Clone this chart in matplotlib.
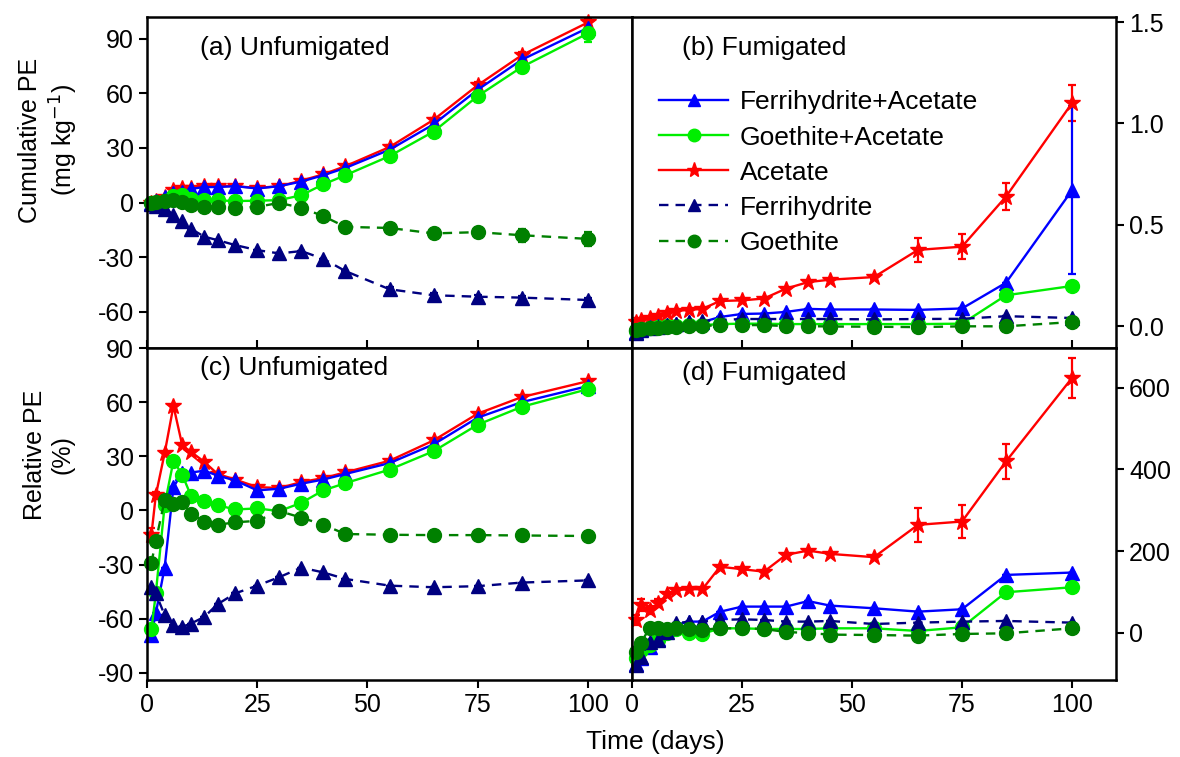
import numpy as np
import matplotlib.pyplot as plt
from matplotlib.lines import Line2D

plt.rcParams['font.family'] = ['Liberation Sans', 'DejaVu Sans']
plt.rcParams['axes.unicode_minus'] = False

# Sampling days
days = [1, 2, 4, 6, 8, 10, 13, 16, 20, 25, 30, 35, 40, 45, 55, 65, 75, 85, 100]

# (a) Cumulative PE, unfumigated (mg kg-1)
a_fa = [0, 1, 3, 5, 6, 7.5, 8.5, 8.5, 9, 7.7, 9, 11.5, 15, 19, 29, 43, 62, 78.5, 96]
a_ga = [-0.5, 0, 1, 3.5, 4, 2.2, 1.6, 1.2, 0.8, 1, 1.3, 4, 10, 15, 25.5, 39, 58.5, 74.5, 93]
a_ac = [0, 1, 3, 7, 8, 8, 9, 9, 9, 8, 9, 12, 15.5, 20, 30.5, 45.5, 64.5, 81, 99]
a_fe = [-1, -2, -3.5, -6.6, -10.2, -14.5, -18.8, -20.7, -23.4, -26.2, -28, -26.7, -31,
        -37.7, -47.7, -51, -51.8, -52.3, -53.6]
a_go = [-0.2, 0.2, 0.7, 1.3, 0.4, -1.1, -2.4, -2.4, -2.9, -2.4, -0.2, -2.9, -7.5,
        -13.4, -14, -17, -16.3, -18, -20]
a_fa_err = [0] * 14 + [1, 1.5, 2, 2, 2]
a_ga_err = [0] * 14 + [2, 2.5, 3, 3.5, 4.5]
a_ac_err = [0] * 14 + [1, 1, 1.5, 1.5, 2]
a_fe_err = [0] * 14 + [1, 1, 1, 1, 1]
a_go_err = [0] * 14 + [1.5, 2, 2.5, 3.5, 4]

# (b) Cumulative PE, fumigated (mg kg-1)
b_fa = [-0.03, -0.015, -0.005, 0.0, 0.005, 0.01, 0.02, 0.02, 0.045, 0.06, 0.062, 0.07,
        0.085, 0.082, 0.082, 0.08, 0.087, 0.214, 0.67]
b_ga = [-0.025, -0.015, -0.01, -0.005, 0.0, 0.0, 0.005, 0.005, 0.01, 0.012, 0.012, 0.01,
        0.01, 0.01, 0.01, 0.01, 0.012, 0.152, 0.198]
b_ac = [0.02, 0.03, 0.04, 0.05, 0.065, 0.075, 0.08, 0.085, 0.124, 0.127, 0.136, 0.185,
        0.217, 0.229, 0.242, 0.376, 0.392, 0.639, 1.10]
b_fe = [-0.035, -0.02, -0.01, -0.005, 0.005, 0.01, 0.02, 0.025, 0.03, 0.035, 0.035, 0.035,
        0.035, 0.035, 0.033, 0.035, 0.036, 0.049, 0.04]
b_go = [-0.02, -0.015, -0.01, -0.008, -0.005, -0.003, 0.0, 0.0, 0.005, 0.005, 0.005, 0.0,
        0.0, -0.002, -0.003, -0.005, -0.001, -0.001, 0.02]
b_fa_err = [0] * 18 + [0.415]
b_ga_err = [0] * 19
b_ac_err = [0] * 14 + [0.01, 0.059, 0.06, 0.065, 0.088]
b_fe_err = [0] * 19
b_go_err = [0] * 19

# (c) Relative PE, unfumigated (%)
c_fa = [-69, -57, -31.7, 12.9, 21, 21, 22, 19.3, 16.6, 11.1, 12, 14.8, 17.1, 20.2, 26.2,
        36.6, 51.4, 60, 68.9]
c_ga = [-66, -46, 2.9, 27.5, 19.7, 8, 5.1, 2.9, 0.5, 1.1, -0.4, 4.2, 11.1, 15.1, 22.6,
        32.8, 47.5, 57.4, 67.2]
c_ac = [-13.5, 8.4, 31.7, 57.9, 36, 32.4, 26.9, 20.2, 17.1, 12.9, 12.4, 15.7, 17.9, 21.1,
        27.5, 38.8, 53.6, 62.8, 71.6]
c_fe = [-42.6, -46, -58, -63.6, -64.5, -62.7, -59, -52, -46, -41.7, -37, -31.7, -34.4,
        -38, -41.7, -42.6, -42, -40, -38.8]
c_go = [-29, -17, 5.6, 3.8, 4.7, -2, -6.2, -8, -6.6, -5.8, -0.4, -4, -8, -13.1, -13.5,
        -13.7, -13.7, -13.9, -14.2]
c_fa_err = [0] * 19
c_ga_err = [0] * 19
c_ac_err = [4, 2] + [0] * 17
c_fe_err = [0] * 19
c_go_err = [0] * 14 + [1.5, 1, 1, 1.5, 1.5]

# (d) Relative PE, fumigated (%)
d_fa = [-75, -60, -35, -15, 10, 20, 27.8, 27.8, 52, 64.5, 64.5, 64.5, 78, 67, 60.4, 52.2,
        58, 142, 147.8]
d_ga = [-62, -42, -29, -17, 0, 9, 1, -2.4, 11.4, 11.4, 9.8, 9.8, 9.8, 11.4, 11.4, 4.9,
        13.9, 99.6, 111.8]
d_ac = [31.8, 68.6, 56.3, 72.7, 95.5, 105, 107, 107, 162, 156, 150, 191, 201.6, 193.5,
        185.4, 264.5, 272.6, 419.6, 623.7]
d_fe = [-78, -58, -21, -17, 3, 23.7, 27.8, 27.8, 31.8, 33.5, 31.8, 27.8, 27.8, 29.4, 22,
        25.3, 27.8, 29.4, 25.3]
d_go = [-45.7, -23.7, 11.4, 11.4, 9.8, 11.4, 9.8, 8, 11.4, 11.4, 9.8, 2.4, 0, -4, -5,
        -6.5, -2.4, -0.8, 11.4]
d_fa_err = [0] * 19
d_ga_err = [0] * 19
d_ac_err = [12, 15, 10, 10] + [0] * 11 + [42, 41, 43, 50]
d_fe_err = [0] * 19
d_go_err = [0] * 19

labels = ['Ferrihydrite+Acetate', 'Goethite+Acetate', 'Acetate', 'Ferrihydrite', 'Goethite']
colors = ['#0000ff', '#00ee00', '#ff0000', '#000080', '#008000']
markers = ['^', 'o', '*', '^', 'o']
msizes = [10, 10, 12, 10, 10]
styles = ['-', '-', '-', (0, (4, 3)), (0, (4, 3))]
draw_order = [2, 0, 1, 3, 4]

panels = [
    ([a_fa, a_ga, a_ac, a_fe, a_go], [a_fa_err, a_ga_err, a_ac_err, a_fe_err, a_go_err]),
    ([b_fa, b_ga, b_ac, b_fe, b_go], [b_fa_err, b_ga_err, b_ac_err, b_fe_err, b_go_err]),
    ([c_fa, c_ga, c_ac, c_fe, c_go], [c_fa_err, c_ga_err, c_ac_err, c_fe_err, c_go_err]),
    ([d_fa, d_ga, d_ac, d_fe, d_go], [d_fa_err, d_ga_err, d_ac_err, d_fe_err, d_go_err]),
]

fig = plt.figure(figsize=(11.8, 7.57), dpi=100)
W, H = 1180, 757
left_x, mid_x, right_x = 147, 632, 1116
top_y, mid_y, bot_y = 17, 348, 680
rects = [
    [left_x / W, 1 - mid_y / H, (mid_x - left_x) / W, (mid_y - top_y) / H],
    [mid_x / W, 1 - mid_y / H, (right_x - mid_x) / W, (mid_y - top_y) / H],
    [left_x / W, 1 - bot_y / H, (mid_x - left_x) / W, (bot_y - mid_y) / H],
    [mid_x / W, 1 - bot_y / H, (right_x - mid_x) / W, (bot_y - mid_y) / H],
]
ylims = [(-80, 102), (-0.108, 1.525), (-94, 90), (-115, 697)]
yticks = [[-60, -30, 0, 30, 60, 90], [0.0, 0.5, 1.0, 1.5],
          [-90, -60, -30, 0, 30, 60, 90], [0, 200, 400, 600]]
titles = ['(a) Unfumigated', '(b) Fumigated', '(c) Unfumigated', '(d) Fumigated']
title_pos = [(0.11, 0.905), (0.103, 0.905), (0.11, 0.94), (0.103, 0.925)]

for k, (vals, errs) in enumerate(panels):
    ax = fig.add_axes(rects[k])
    for i in draw_order:
        ax.errorbar(days, vals[i], yerr=errs[i], color=colors[i], ls=styles[i],
                    lw=1.7, marker=markers[i], ms=msizes[i], mec=colors[i],
                    capsize=3, elinewidth=1.6, capthick=1.6, clip_on=False)
    ax.set_xlim(0, 110)
    ax.set_ylim(*ylims[k])
    ax.set_yticks(yticks[k])
    ax.set_xticks([0, 25, 50, 75, 100])
    if k == 1:
        ax.set_yticklabels(['0.0', '0.5', '1.0', '1.5'])
    if k in (1, 3):
        ax.yaxis.tick_right()
    if k in (0, 1):
        ax.tick_params(axis='x', direction='in', labelbottom=False, length=6, width=1.5)
    else:
        ax.tick_params(axis='x', direction='out', length=6, width=1.5, labelsize=18)
    ax.tick_params(axis='y', direction='out', length=6, width=1.5, labelsize=18)
    for sp in ax.spines.values():
        sp.set_linewidth(1.8)
    ax.text(title_pos[k][0], title_pos[k][1], titles[k], transform=ax.transAxes,
            fontsize=19, ha='left', va='center')
    if k == 1:
        proxies = [Line2D([], [], color=colors[i], ls=styles[i], lw=1.7,
                          marker=markers[i], ms=msizes[i] - 1) for i in range(5)]
        ax.legend(proxies, labels, loc='upper left',
                  bbox_to_anchor=(0.035, 0.81), frameon=False, fontsize=19,
                  handlelength=2.6, handletextpad=0.45, labelspacing=0.42,
                  borderaxespad=0)

fig.text(49 / W, 1 - 140 / H, 'Cumulative PE\n(mg kg$^{-1}$)', rotation=90,
         ha='center', va='center', fontsize=18, multialignment='center')
fig.text(49 / W, 1 - 455 / H, 'Relative PE\n(%)', rotation=90,
         ha='center', va='center', fontsize=18, multialignment='center')
fig.text(655 / W, 1 - 742 / H, 'Time (days)', ha='center', va='center', fontsize=19)

fig.savefig('out.png', dpi=100)
